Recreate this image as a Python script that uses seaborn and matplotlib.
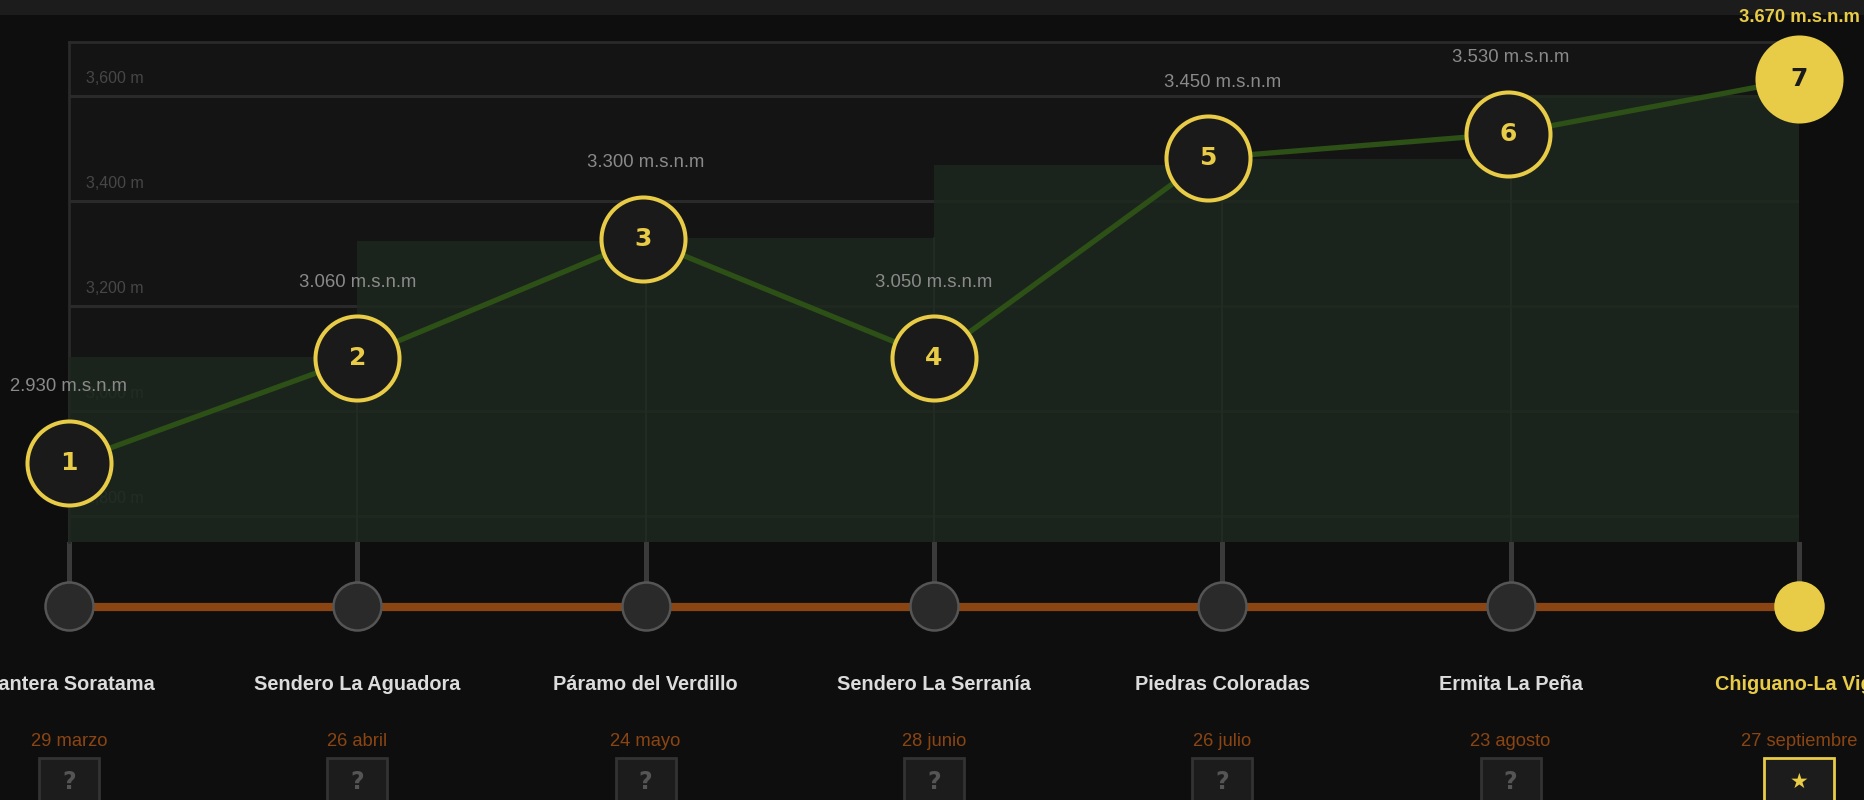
import matplotlib
matplotlib.use("Agg")
import matplotlib.pyplot as plt
import matplotlib.transforms as mtransforms
from matplotlib.patches import Rectangle
import seaborn as sns
import pandas as pd

# ---------------- data ----------------
names = ["Cantera Soratama", "Sendero La Aguadora", "Páramo del Verdillo",
         "Sendero La Serranía", "Piedras Coloradas", "Ermita La Peña",
         "Chiguano-La Viga"]
dates = ["29 marzo", "26 abril", "24 mayo", "28 junio", "26 julio",
         "23 agosto", "27 septiembre"]
elevations = [2930, 3060, 3300, 3050, 3450, 3530, 3670]
# plotted profile (as drawn in the picture, metres on the grid scale)
profile_x = [0, 1, 1.99, 3, 3.95, 4.99, 6]
profile_y = [2901, 3101, 3328, 3101, 3482, 3528, 3632]
# stepped background band, one value per segment between stops
band_top = [3103, 3324, 3330, 3469, 3480, 3602]
grid_ticks = [2800, 3000, 3200, 3400, 3600]

# ---------------- style ----------------
sns.set_theme(style="dark")
plt.rcParams["font.family"] = ["Liberation Sans", "DejaVu Sans"]

BG = "#0e0e0e"
PANEL = "#141414"
YELLOW = "#e8cb46"
GRID = "#2a2a2a"
ORANGE = "#8b4513"
LINEGREEN = "#2d5016"

W, H = 1864, 800
fig = plt.figure(figsize=(W / 100, H / 100), dpi=100, facecolor=BG)

# top strip
fig.patches.append(Rectangle((0, 1 - 15 / H), 1, 15 / H, transform=fig.transFigure,
                             facecolor="#1c1c1c", edgecolor="none", zorder=-5))

# ---------------- main profile panel ----------------
L, R, T, B = 69, 1799, 42, 542
ax = fig.add_axes([L / W, 1 - B / H, (R - L) / W, (B - T) / H])
ax.set_zorder(1)
ax.set_facecolor(PANEL)
n = len(names)
ax.set_xlim(0, n - 1)
YMIN, YMAX = 2750.5, 3703
ax.set_ylim(YMIN, YMAX)
ax.set_xticks([])
ax.set_yticks([])
ax.grid(False)
for side in ["top", "left"]:
    ax.spines[side].set_color(GRID)
    ax.spines[side].set_linewidth(2)
    ax.spines[side].set_zorder(1.5)
for side in ["right", "bottom"]:
    ax.spines[side].set_visible(False)

for v in grid_ticks:
    ax.axhline(v, color=GRID, lw=2.2, zorder=1)
    ax.annotate(f"{v:,} m", xy=(0, v), xytext=(17, 18), textcoords="offset pixels",
                ha="left", va="center", color="#474747", fontsize=11.5, zorder=1)

# stepped green band
steps_x = list(range(n))
steps_y = band_top + [band_top[-1]]
ax.fill_between(steps_x, steps_y, YMIN, step="post", color=(0.115, 0.157, 0.118),
                alpha=0.85, lw=0, zorder=2)
for i in range(1, n - 1):
    ax.plot([i, i], [YMIN, min(band_top[i - 1], band_top[i])], color="#222a23",
            lw=1.5, zorder=2.5)

# profile line
df = pd.DataFrame({"x": profile_x, "y": profile_y})
sns.lineplot(data=df, x="x", y="y", ax=ax, color=LINEGREEN, lw=3.8, zorder=3,
             sort=False, estimator=None)
ax.set_xlabel("")
ax.set_ylabel("")

msize = 60.5 ** 2
ax.scatter(profile_x[:-1], profile_y[:-1], s=msize, facecolor="#1a1a1a",
           edgecolor=YELLOW, linewidth=2.9, zorder=4, clip_on=False)
ax.scatter(profile_x[-1:], profile_y[-1:], s=msize, facecolor=YELLOW,
           edgecolor=YELLOW, linewidth=2.9, zorder=4, clip_on=False)
for i, (x, y) in enumerate(zip(profile_x, profile_y)):
    c = "#1a1a1a" if i == n - 1 else YELLOW
    ax.text(x, y, str(i + 1), ha="center", va="center", fontsize=18,
            fontweight="bold", family="DejaVu Sans", color=c,
            zorder=5, clip_on=False)

def fmt(e):
    return f"{e / 1000:.3f} m.s.n.m"

for i, e in enumerate(elevations[:-1]):
    ax.annotate(fmt(e), xy=(i, profile_y[i]), xytext=(0, 76),
                textcoords="offset pixels", ha="center", va="center",
                color="#8a8a8a", fontsize=13.3, zorder=6, annotation_clip=False)
blend = mtransforms.blended_transform_factory(ax.transData, fig.transFigure)
ax.text(n - 1, 1 - 18 / H, fmt(elevations[-1]), transform=blend, ha="center",
        va="center", color=YELLOW, fontsize=13.3, fontweight="bold", zorder=6,
        clip_on=False)

# ---------------- timeline ----------------
step = (R - L) / (n - 1)
tl = fig.add_axes([0, 0, 1, (H - B) / H])
tl.set_zorder(0)
tl.set_xlim((0 - L) / step, (W - L) / step)
tl.set_ylim(H, B)
tl.axis("off")
tl.patch.set_alpha(0)

idx = list(range(n))
tl.vlines(idx, B - 2, 606, color="#3a3a3a", lw=3.6, zorder=1)
tl.plot([idx[0], idx[-1]], [607, 607], color=ORANGE, lw=5.9, zorder=2,
        solid_capstyle="butt")
tsize = (48 * 0.72) ** 2
tl.scatter(idx[:-1], [606] * (n - 1), s=tsize, facecolor="#2a2a2a",
           edgecolor="#555555", linewidth=1.8, zorder=3)
tl.scatter(idx[-1:], [606], s=tsize, facecolor=YELLOW, edgecolor=YELLOW,
           linewidth=1.8, zorder=3)

for i in idx:
    last = i == n - 1
    tl.text(i, 685, names[i], ha="center", va="center", fontsize=14.3,
            fontweight="bold", color=YELLOW if last else "#dcdcdc")
    tl.text(i, 742, dates[i], ha="center", va="center", fontsize=13.2,
            color=ORANGE)
    bw = (70 if last else 60) / step
    tl.add_patch(Rectangle((i - bw / 2, 758), bw, 70, facecolor="#1c1c1c",
                           edgecolor=YELLOW if last else "#333333",
                           lw=2.0, zorder=2, clip_on=False))
    if last:
        tl.text(i, 782, "★", ha="center", va="center", fontsize=15,
                family="DejaVu Sans", color=YELLOW, zorder=3)
    else:
        tl.text(i, 782, "?", ha="center", va="center", fontsize=17,
                fontweight="bold", family="DejaVu Sans",
                color="#555555", zorder=3)

fig.savefig("out.png", dpi=100, facecolor=BG)
